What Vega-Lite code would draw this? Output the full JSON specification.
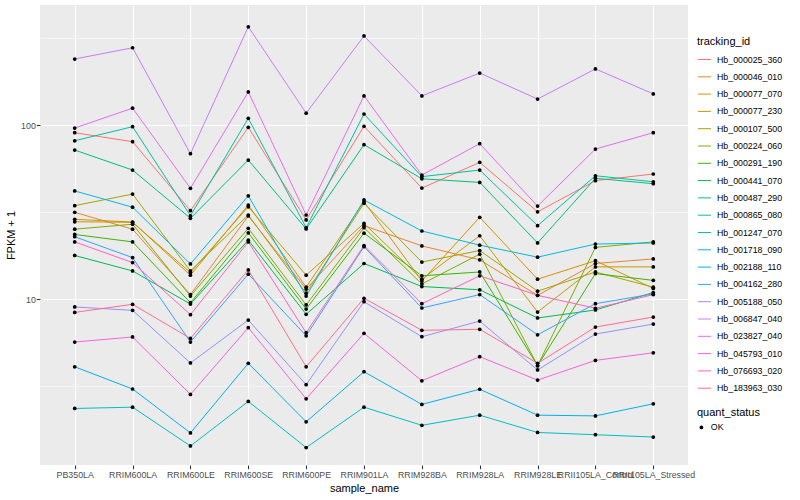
{
  "$schema": "https://vega.github.io/schema/vega-lite/v6.json",
  "width": 648,
  "height": 460,
  "autosize": {"type": "none"},
  "padding": {"left": 40, "top": 5, "right": 112, "bottom": 35},
  "background": "white",
  "config": {
    "font": "Liberation Sans",
    "view": {"fill": "#EBEBEB", "stroke": null},
    "axis": {"domain": false, "tickColor": "#333333", "tickSize": 3.7, "tickWidth": 1.07, "labelColor": "#4D4D4D", "labelFontSize": 8.8, "titleFontSize": 11, "titleFontWeight": "normal", "titleColor": "#000000", "gridColor": "#FFFFFF", "gridWidth": 1.07, "labelPadding": 2},
    "legend": {"titleFontSize": 11, "titleFontWeight": "normal", "titleColor": "#000000", "labelFontSize": 8.8, "labelColor": "#000000"}
  },
  "data": {"values": [
{"sample_name":"PB350LA","tracking_id":"Hb_000025_360","fpkm":90.3,"quant_status":"OK"},
{"sample_name":"RRIM600LA","tracking_id":"Hb_000025_360","fpkm":80.2,"quant_status":"OK"},
{"sample_name":"RRIM600LE","tracking_id":"Hb_000025_360","fpkm":32.2,"quant_status":"OK"},
{"sample_name":"RRIM600SE","tracking_id":"Hb_000025_360","fpkm":97.0,"quant_status":"OK"},
{"sample_name":"RRIM600PE","tracking_id":"Hb_000025_360","fpkm":28.5,"quant_status":"OK"},
{"sample_name":"RRIM901LA","tracking_id":"Hb_000025_360","fpkm":98.3,"quant_status":"OK"},
{"sample_name":"RRIM928BA","tracking_id":"Hb_000025_360","fpkm":43.4,"quant_status":"OK"},
{"sample_name":"RRIM928LA","tracking_id":"Hb_000025_360","fpkm":61.0,"quant_status":"OK"},
{"sample_name":"RRIM928LE","tracking_id":"Hb_000025_360","fpkm":31.7,"quant_status":"OK"},
{"sample_name":"RRII105LA_Control","tracking_id":"Hb_000025_360","fpkm":47.9,"quant_status":"OK"},
{"sample_name":"RRII105LA_Stressed","tracking_id":"Hb_000025_360","fpkm":52.3,"quant_status":"OK"},
{"sample_name":"PB350LA","tracking_id":"Hb_000046_010","fpkm":31.5,"quant_status":"OK"},
{"sample_name":"RRIM600LA","tracking_id":"Hb_000046_010","fpkm":25.2,"quant_status":"OK"},
{"sample_name":"RRIM600LE","tracking_id":"Hb_000046_010","fpkm":10.6,"quant_status":"OK"},
{"sample_name":"RRIM600SE","tracking_id":"Hb_000046_010","fpkm":30.0,"quant_status":"OK"},
{"sample_name":"RRIM600PE","tracking_id":"Hb_000046_010","fpkm":11.4,"quant_status":"OK"},
{"sample_name":"RRIM901LA","tracking_id":"Hb_000046_010","fpkm":26.4,"quant_status":"OK"},
{"sample_name":"RRIM928BA","tracking_id":"Hb_000046_010","fpkm":20.2,"quant_status":"OK"},
{"sample_name":"RRIM928LA","tracking_id":"Hb_000046_010","fpkm":16.8,"quant_status":"OK"},
{"sample_name":"RRIM928LE","tracking_id":"Hb_000046_010","fpkm":10.5,"quant_status":"OK"},
{"sample_name":"RRII105LA_Control","tracking_id":"Hb_000046_010","fpkm":16.0,"quant_status":"OK"},
{"sample_name":"RRII105LA_Stressed","tracking_id":"Hb_000046_010","fpkm":17.0,"quant_status":"OK"},
{"sample_name":"PB350LA","tracking_id":"Hb_000077_070","fpkm":28.7,"quant_status":"OK"},
{"sample_name":"RRIM600LA","tracking_id":"Hb_000077_070","fpkm":27.7,"quant_status":"OK"},
{"sample_name":"RRIM600LE","tracking_id":"Hb_000077_070","fpkm":13.7,"quant_status":"OK"},
{"sample_name":"RRIM600SE","tracking_id":"Hb_000077_070","fpkm":34.7,"quant_status":"OK"},
{"sample_name":"RRIM600PE","tracking_id":"Hb_000077_070","fpkm":11.7,"quant_status":"OK"},
{"sample_name":"RRIM901LA","tracking_id":"Hb_000077_070","fpkm":36.2,"quant_status":"OK"},
{"sample_name":"RRIM928BA","tracking_id":"Hb_000077_070","fpkm":12.7,"quant_status":"OK"},
{"sample_name":"RRIM928LA","tracking_id":"Hb_000077_070","fpkm":29.5,"quant_status":"OK"},
{"sample_name":"RRIM928LE","tracking_id":"Hb_000077_070","fpkm":13.0,"quant_status":"OK"},
{"sample_name":"RRII105LA_Control","tracking_id":"Hb_000077_070","fpkm":16.6,"quant_status":"OK"},
{"sample_name":"RRII105LA_Stressed","tracking_id":"Hb_000077_070","fpkm":11.5,"quant_status":"OK"},
{"sample_name":"PB350LA","tracking_id":"Hb_000077_230","fpkm":27.8,"quant_status":"OK"},
{"sample_name":"RRIM600LA","tracking_id":"Hb_000077_230","fpkm":27.6,"quant_status":"OK"},
{"sample_name":"RRIM600LE","tracking_id":"Hb_000077_230","fpkm":14.2,"quant_status":"OK"},
{"sample_name":"RRIM600SE","tracking_id":"Hb_000077_230","fpkm":33.9,"quant_status":"OK"},
{"sample_name":"RRIM600PE","tracking_id":"Hb_000077_230","fpkm":13.7,"quant_status":"OK"},
{"sample_name":"RRIM901LA","tracking_id":"Hb_000077_230","fpkm":27.2,"quant_status":"OK"},
{"sample_name":"RRIM928BA","tracking_id":"Hb_000077_230","fpkm":13.0,"quant_status":"OK"},
{"sample_name":"RRIM928LA","tracking_id":"Hb_000077_230","fpkm":23.1,"quant_status":"OK"},
{"sample_name":"RRIM928LE","tracking_id":"Hb_000077_230","fpkm":8.42,"quant_status":"OK"},
{"sample_name":"RRII105LA_Control","tracking_id":"Hb_000077_230","fpkm":15.3,"quant_status":"OK"},
{"sample_name":"RRII105LA_Stressed","tracking_id":"Hb_000077_230","fpkm":15.3,"quant_status":"OK"},
{"sample_name":"PB350LA","tracking_id":"Hb_000107_500","fpkm":34.4,"quant_status":"OK"},
{"sample_name":"RRIM600LA","tracking_id":"Hb_000107_500","fpkm":40.1,"quant_status":"OK"},
{"sample_name":"RRIM600LE","tracking_id":"Hb_000107_500","fpkm":14.5,"quant_status":"OK"},
{"sample_name":"RRIM600SE","tracking_id":"Hb_000107_500","fpkm":30.4,"quant_status":"OK"},
{"sample_name":"RRIM600PE","tracking_id":"Hb_000107_500","fpkm":10.8,"quant_status":"OK"},
{"sample_name":"RRIM901LA","tracking_id":"Hb_000107_500","fpkm":35.5,"quant_status":"OK"},
{"sample_name":"RRIM928BA","tracking_id":"Hb_000107_500","fpkm":16.3,"quant_status":"OK"},
{"sample_name":"RRIM928LA","tracking_id":"Hb_000107_500","fpkm":19.0,"quant_status":"OK"},
{"sample_name":"RRIM928LE","tracking_id":"Hb_000107_500","fpkm":11.1,"quant_status":"OK"},
{"sample_name":"RRII105LA_Control","tracking_id":"Hb_000107_500","fpkm":14.3,"quant_status":"OK"},
{"sample_name":"RRII105LA_Stressed","tracking_id":"Hb_000107_500","fpkm":11.7,"quant_status":"OK"},
{"sample_name":"PB350LA","tracking_id":"Hb_000224_060","fpkm":25.2,"quant_status":"OK"},
{"sample_name":"RRIM600LA","tracking_id":"Hb_000224_060","fpkm":26.9,"quant_status":"OK"},
{"sample_name":"RRIM600LE","tracking_id":"Hb_000224_060","fpkm":10.4,"quant_status":"OK"},
{"sample_name":"RRIM600SE","tracking_id":"Hb_000224_060","fpkm":25.5,"quant_status":"OK"},
{"sample_name":"RRIM600PE","tracking_id":"Hb_000224_060","fpkm":9.24,"quant_status":"OK"},
{"sample_name":"RRIM901LA","tracking_id":"Hb_000224_060","fpkm":25.7,"quant_status":"OK"},
{"sample_name":"RRIM928BA","tracking_id":"Hb_000224_060","fpkm":12.2,"quant_status":"OK"},
{"sample_name":"RRIM928LA","tracking_id":"Hb_000224_060","fpkm":18.1,"quant_status":"OK"},
{"sample_name":"RRIM928LE","tracking_id":"Hb_000224_060","fpkm":4.14,"quant_status":"OK"},
{"sample_name":"RRII105LA_Control","tracking_id":"Hb_000224_060","fpkm":19.8,"quant_status":"OK"},
{"sample_name":"RRII105LA_Stressed","tracking_id":"Hb_000224_060","fpkm":21.3,"quant_status":"OK"},
{"sample_name":"PB350LA","tracking_id":"Hb_000291_190","fpkm":23.5,"quant_status":"OK"},
{"sample_name":"RRIM600LA","tracking_id":"Hb_000291_190","fpkm":21.3,"quant_status":"OK"},
{"sample_name":"RRIM600LE","tracking_id":"Hb_000291_190","fpkm":9.52,"quant_status":"OK"},
{"sample_name":"RRIM600SE","tracking_id":"Hb_000291_190","fpkm":24.0,"quant_status":"OK"},
{"sample_name":"RRIM600PE","tracking_id":"Hb_000291_190","fpkm":8.76,"quant_status":"OK"},
{"sample_name":"RRIM901LA","tracking_id":"Hb_000291_190","fpkm":23.9,"quant_status":"OK"},
{"sample_name":"RRIM928BA","tracking_id":"Hb_000291_190","fpkm":13.6,"quant_status":"OK"},
{"sample_name":"RRIM928LA","tracking_id":"Hb_000291_190","fpkm":14.3,"quant_status":"OK"},
{"sample_name":"RRIM928LE","tracking_id":"Hb_000291_190","fpkm":4.14,"quant_status":"OK"},
{"sample_name":"RRII105LA_Control","tracking_id":"Hb_000291_190","fpkm":14.0,"quant_status":"OK"},
{"sample_name":"RRII105LA_Stressed","tracking_id":"Hb_000291_190","fpkm":12.8,"quant_status":"OK"},
{"sample_name":"PB350LA","tracking_id":"Hb_000441_070","fpkm":17.8,"quant_status":"OK"},
{"sample_name":"RRIM600LA","tracking_id":"Hb_000441_070","fpkm":14.5,"quant_status":"OK"},
{"sample_name":"RRIM600LE","tracking_id":"Hb_000441_070","fpkm":9.36,"quant_status":"OK"},
{"sample_name":"RRIM600SE","tracking_id":"Hb_000441_070","fpkm":21.8,"quant_status":"OK"},
{"sample_name":"RRIM600PE","tracking_id":"Hb_000441_070","fpkm":8.17,"quant_status":"OK"},
{"sample_name":"RRIM901LA","tracking_id":"Hb_000441_070","fpkm":16.0,"quant_status":"OK"},
{"sample_name":"RRIM928BA","tracking_id":"Hb_000441_070","fpkm":11.8,"quant_status":"OK"},
{"sample_name":"RRIM928LA","tracking_id":"Hb_000441_070","fpkm":11.3,"quant_status":"OK"},
{"sample_name":"RRIM928LE","tracking_id":"Hb_000441_070","fpkm":7.78,"quant_status":"OK"},
{"sample_name":"RRII105LA_Control","tracking_id":"Hb_000441_070","fpkm":8.65,"quant_status":"OK"},
{"sample_name":"RRII105LA_Stressed","tracking_id":"Hb_000441_070","fpkm":10.9,"quant_status":"OK"},
{"sample_name":"PB350LA","tracking_id":"Hb_000487_290","fpkm":71.8,"quant_status":"OK"},
{"sample_name":"RRIM600LA","tracking_id":"Hb_000487_290","fpkm":55.1,"quant_status":"OK"},
{"sample_name":"RRIM600LE","tracking_id":"Hb_000487_290","fpkm":29.1,"quant_status":"OK"},
{"sample_name":"RRIM600SE","tracking_id":"Hb_000487_290","fpkm":62.9,"quant_status":"OK"},
{"sample_name":"RRIM600PE","tracking_id":"Hb_000487_290","fpkm":25.3,"quant_status":"OK"},
{"sample_name":"RRIM901LA","tracking_id":"Hb_000487_290","fpkm":77.1,"quant_status":"OK"},
{"sample_name":"RRIM928BA","tracking_id":"Hb_000487_290","fpkm":49.1,"quant_status":"OK"},
{"sample_name":"RRIM928LA","tracking_id":"Hb_000487_290","fpkm":46.8,"quant_status":"OK"},
{"sample_name":"RRIM928LE","tracking_id":"Hb_000487_290","fpkm":21.0,"quant_status":"OK"},
{"sample_name":"RRII105LA_Control","tracking_id":"Hb_000487_290","fpkm":49.4,"quant_status":"OK"},
{"sample_name":"RRII105LA_Stressed","tracking_id":"Hb_000487_290","fpkm":46.0,"quant_status":"OK"},
{"sample_name":"PB350LA","tracking_id":"Hb_000865_080","fpkm":81.2,"quant_status":"OK"},
{"sample_name":"RRIM600LA","tracking_id":"Hb_000865_080","fpkm":97.8,"quant_status":"OK"},
{"sample_name":"RRIM600LE","tracking_id":"Hb_000865_080","fpkm":30.1,"quant_status":"OK"},
{"sample_name":"RRIM600SE","tracking_id":"Hb_000865_080","fpkm":109.3,"quant_status":"OK"},
{"sample_name":"RRIM600PE","tracking_id":"Hb_000865_080","fpkm":25.7,"quant_status":"OK"},
{"sample_name":"RRIM901LA","tracking_id":"Hb_000865_080","fpkm":115.7,"quant_status":"OK"},
{"sample_name":"RRIM928BA","tracking_id":"Hb_000865_080","fpkm":50.5,"quant_status":"OK"},
{"sample_name":"RRIM928LA","tracking_id":"Hb_000865_080","fpkm":55.1,"quant_status":"OK"},
{"sample_name":"RRIM928LE","tracking_id":"Hb_000865_080","fpkm":26.4,"quant_status":"OK"},
{"sample_name":"RRII105LA_Control","tracking_id":"Hb_000865_080","fpkm":51.1,"quant_status":"OK"},
{"sample_name":"RRII105LA_Stressed","tracking_id":"Hb_000865_080","fpkm":47.2,"quant_status":"OK"},
{"sample_name":"PB350LA","tracking_id":"Hb_001247_070","fpkm":2.35,"quant_status":"OK"},
{"sample_name":"RRIM600LA","tracking_id":"Hb_001247_070","fpkm":2.39,"quant_status":"OK"},
{"sample_name":"RRIM600LE","tracking_id":"Hb_001247_070","fpkm":1.43,"quant_status":"OK"},
{"sample_name":"RRIM600SE","tracking_id":"Hb_001247_070","fpkm":2.58,"quant_status":"OK"},
{"sample_name":"RRIM600PE","tracking_id":"Hb_001247_070","fpkm":1.40,"quant_status":"OK"},
{"sample_name":"RRIM901LA","tracking_id":"Hb_001247_070","fpkm":2.39,"quant_status":"OK"},
{"sample_name":"RRIM928BA","tracking_id":"Hb_001247_070","fpkm":1.88,"quant_status":"OK"},
{"sample_name":"RRIM928LA","tracking_id":"Hb_001247_070","fpkm":2.15,"quant_status":"OK"},
{"sample_name":"RRIM928LE","tracking_id":"Hb_001247_070","fpkm":1.71,"quant_status":"OK"},
{"sample_name":"RRII105LA_Control","tracking_id":"Hb_001247_070","fpkm":1.66,"quant_status":"OK"},
{"sample_name":"RRII105LA_Stressed","tracking_id":"Hb_001247_070","fpkm":1.61,"quant_status":"OK"},
{"sample_name":"PB350LA","tracking_id":"Hb_001718_090","fpkm":41.8,"quant_status":"OK"},
{"sample_name":"RRIM600LA","tracking_id":"Hb_001718_090","fpkm":33.7,"quant_status":"OK"},
{"sample_name":"RRIM600LE","tracking_id":"Hb_001718_090","fpkm":15.9,"quant_status":"OK"},
{"sample_name":"RRIM600SE","tracking_id":"Hb_001718_090","fpkm":39.2,"quant_status":"OK"},
{"sample_name":"RRIM600PE","tracking_id":"Hb_001718_090","fpkm":10.4,"quant_status":"OK"},
{"sample_name":"RRIM901LA","tracking_id":"Hb_001718_090","fpkm":37.1,"quant_status":"OK"},
{"sample_name":"RRIM928BA","tracking_id":"Hb_001718_090","fpkm":24.6,"quant_status":"OK"},
{"sample_name":"RRIM928LA","tracking_id":"Hb_001718_090","fpkm":20.4,"quant_status":"OK"},
{"sample_name":"RRIM928LE","tracking_id":"Hb_001718_090","fpkm":17.4,"quant_status":"OK"},
{"sample_name":"RRII105LA_Control","tracking_id":"Hb_001718_090","fpkm":20.7,"quant_status":"OK"},
{"sample_name":"RRII105LA_Stressed","tracking_id":"Hb_001718_090","fpkm":21.0,"quant_status":"OK"},
{"sample_name":"PB350LA","tracking_id":"Hb_002188_110","fpkm":4.08,"quant_status":"OK"},
{"sample_name":"RRIM600LA","tracking_id":"Hb_002188_110","fpkm":3.04,"quant_status":"OK"},
{"sample_name":"RRIM600LE","tracking_id":"Hb_002188_110","fpkm":1.70,"quant_status":"OK"},
{"sample_name":"RRIM600SE","tracking_id":"Hb_002188_110","fpkm":4.27,"quant_status":"OK"},
{"sample_name":"RRIM600PE","tracking_id":"Hb_002188_110","fpkm":1.97,"quant_status":"OK"},
{"sample_name":"RRIM901LA","tracking_id":"Hb_002188_110","fpkm":3.82,"quant_status":"OK"},
{"sample_name":"RRIM928BA","tracking_id":"Hb_002188_110","fpkm":2.48,"quant_status":"OK"},
{"sample_name":"RRIM928LA","tracking_id":"Hb_002188_110","fpkm":3.03,"quant_status":"OK"},
{"sample_name":"RRIM928LE","tracking_id":"Hb_002188_110","fpkm":2.15,"quant_status":"OK"},
{"sample_name":"RRII105LA_Control","tracking_id":"Hb_002188_110","fpkm":2.13,"quant_status":"OK"},
{"sample_name":"RRII105LA_Stressed","tracking_id":"Hb_002188_110","fpkm":2.50,"quant_status":"OK"},
{"sample_name":"PB350LA","tracking_id":"Hb_004162_280","fpkm":22.8,"quant_status":"OK"},
{"sample_name":"RRIM600LA","tracking_id":"Hb_004162_280","fpkm":17.3,"quant_status":"OK"},
{"sample_name":"RRIM600LE","tracking_id":"Hb_004162_280","fpkm":5.66,"quant_status":"OK"},
{"sample_name":"RRIM600SE","tracking_id":"Hb_004162_280","fpkm":13.9,"quant_status":"OK"},
{"sample_name":"RRIM600PE","tracking_id":"Hb_004162_280","fpkm":6.15,"quant_status":"OK"},
{"sample_name":"RRIM901LA","tracking_id":"Hb_004162_280","fpkm":20.0,"quant_status":"OK"},
{"sample_name":"RRIM928BA","tracking_id":"Hb_004162_280","fpkm":8.88,"quant_status":"OK"},
{"sample_name":"RRIM928LA","tracking_id":"Hb_004162_280","fpkm":10.6,"quant_status":"OK"},
{"sample_name":"RRIM928LE","tracking_id":"Hb_004162_280","fpkm":6.23,"quant_status":"OK"},
{"sample_name":"RRII105LA_Control","tracking_id":"Hb_004162_280","fpkm":9.40,"quant_status":"OK"},
{"sample_name":"RRII105LA_Stressed","tracking_id":"Hb_004162_280","fpkm":10.7,"quant_status":"OK"},
{"sample_name":"PB350LA","tracking_id":"Hb_005188_050","fpkm":9.00,"quant_status":"OK"},
{"sample_name":"RRIM600LA","tracking_id":"Hb_005188_050","fpkm":8.61,"quant_status":"OK"},
{"sample_name":"RRIM600LE","tracking_id":"Hb_005188_050","fpkm":4.29,"quant_status":"OK"},
{"sample_name":"RRIM600SE","tracking_id":"Hb_005188_050","fpkm":7.57,"quant_status":"OK"},
{"sample_name":"RRIM600PE","tracking_id":"Hb_005188_050","fpkm":3.22,"quant_status":"OK"},
{"sample_name":"RRIM901LA","tracking_id":"Hb_005188_050","fpkm":9.65,"quant_status":"OK"},
{"sample_name":"RRIM928BA","tracking_id":"Hb_005188_050","fpkm":6.07,"quant_status":"OK"},
{"sample_name":"RRIM928LA","tracking_id":"Hb_005188_050","fpkm":7.47,"quant_status":"OK"},
{"sample_name":"RRIM928LE","tracking_id":"Hb_005188_050","fpkm":3.91,"quant_status":"OK"},
{"sample_name":"RRII105LA_Control","tracking_id":"Hb_005188_050","fpkm":6.29,"quant_status":"OK"},
{"sample_name":"RRII105LA_Stressed","tracking_id":"Hb_005188_050","fpkm":7.18,"quant_status":"OK"},
{"sample_name":"PB350LA","tracking_id":"Hb_006847_040","fpkm":239.5,"quant_status":"OK"},
{"sample_name":"RRIM600LA","tracking_id":"Hb_006847_040","fpkm":278,"quant_status":"OK"},
{"sample_name":"RRIM600LE","tracking_id":"Hb_006847_040","fpkm":68.4,"quant_status":"OK"},
{"sample_name":"RRIM600SE","tracking_id":"Hb_006847_040","fpkm":367,"quant_status":"OK"},
{"sample_name":"RRIM600PE","tracking_id":"Hb_006847_040","fpkm":117,"quant_status":"OK"},
{"sample_name":"RRIM901LA","tracking_id":"Hb_006847_040","fpkm":325,"quant_status":"OK"},
{"sample_name":"RRIM928BA","tracking_id":"Hb_006847_040","fpkm":147,"quant_status":"OK"},
{"sample_name":"RRIM928LA","tracking_id":"Hb_006847_040","fpkm":199,"quant_status":"OK"},
{"sample_name":"RRIM928LE","tracking_id":"Hb_006847_040","fpkm":141,"quant_status":"OK"},
{"sample_name":"RRII105LA_Control","tracking_id":"Hb_006847_040","fpkm":210,"quant_status":"OK"},
{"sample_name":"RRII105LA_Stressed","tracking_id":"Hb_006847_040","fpkm":151,"quant_status":"OK"},
{"sample_name":"PB350LA","tracking_id":"Hb_023827_040","fpkm":96.1,"quant_status":"OK"},
{"sample_name":"RRIM600LA","tracking_id":"Hb_023827_040","fpkm":125,"quant_status":"OK"},
{"sample_name":"RRIM600LE","tracking_id":"Hb_023827_040","fpkm":43.3,"quant_status":"OK"},
{"sample_name":"RRIM600SE","tracking_id":"Hb_023827_040","fpkm":155,"quant_status":"OK"},
{"sample_name":"RRIM600PE","tracking_id":"Hb_023827_040","fpkm":30.4,"quant_status":"OK"},
{"sample_name":"RRIM901LA","tracking_id":"Hb_023827_040","fpkm":147,"quant_status":"OK"},
{"sample_name":"RRIM928BA","tracking_id":"Hb_023827_040","fpkm":51.6,"quant_status":"OK"},
{"sample_name":"RRIM928LA","tracking_id":"Hb_023827_040","fpkm":78.1,"quant_status":"OK"},
{"sample_name":"RRIM928LE","tracking_id":"Hb_023827_040","fpkm":34.2,"quant_status":"OK"},
{"sample_name":"RRII105LA_Control","tracking_id":"Hb_023827_040","fpkm":72.8,"quant_status":"OK"},
{"sample_name":"RRII105LA_Stressed","tracking_id":"Hb_023827_040","fpkm":90.3,"quant_status":"OK"},
{"sample_name":"PB350LA","tracking_id":"Hb_045793_010","fpkm":5.66,"quant_status":"OK"},
{"sample_name":"RRIM600LA","tracking_id":"Hb_045793_010","fpkm":6.05,"quant_status":"OK"},
{"sample_name":"RRIM600LE","tracking_id":"Hb_045793_010","fpkm":2.83,"quant_status":"OK"},
{"sample_name":"RRIM600SE","tracking_id":"Hb_045793_010","fpkm":6.84,"quant_status":"OK"},
{"sample_name":"RRIM600PE","tracking_id":"Hb_045793_010","fpkm":2.67,"quant_status":"OK"},
{"sample_name":"RRIM901LA","tracking_id":"Hb_045793_010","fpkm":6.35,"quant_status":"OK"},
{"sample_name":"RRIM928BA","tracking_id":"Hb_045793_010","fpkm":3.39,"quant_status":"OK"},
{"sample_name":"RRIM928LA","tracking_id":"Hb_045793_010","fpkm":4.66,"quant_status":"OK"},
{"sample_name":"RRIM928LE","tracking_id":"Hb_045793_010","fpkm":3.42,"quant_status":"OK"},
{"sample_name":"RRII105LA_Control","tracking_id":"Hb_045793_010","fpkm":4.44,"quant_status":"OK"},
{"sample_name":"RRII105LA_Stressed","tracking_id":"Hb_045793_010","fpkm":4.91,"quant_status":"OK"},
{"sample_name":"PB350LA","tracking_id":"Hb_076693_020","fpkm":21.3,"quant_status":"OK"},
{"sample_name":"RRIM600LA","tracking_id":"Hb_076693_020","fpkm":16.2,"quant_status":"OK"},
{"sample_name":"RRIM600LE","tracking_id":"Hb_076693_020","fpkm":8.13,"quant_status":"OK"},
{"sample_name":"RRIM600SE","tracking_id":"Hb_076693_020","fpkm":21.3,"quant_status":"OK"},
{"sample_name":"RRIM600PE","tracking_id":"Hb_076693_020","fpkm":6.40,"quant_status":"OK"},
{"sample_name":"RRIM901LA","tracking_id":"Hb_076693_020","fpkm":20.3,"quant_status":"OK"},
{"sample_name":"RRIM928BA","tracking_id":"Hb_076693_020","fpkm":9.40,"quant_status":"OK"},
{"sample_name":"RRIM928LA","tracking_id":"Hb_076693_020","fpkm":13.6,"quant_status":"OK"},
{"sample_name":"RRIM928LE","tracking_id":"Hb_076693_020","fpkm":10.5,"quant_status":"OK"},
{"sample_name":"RRII105LA_Control","tracking_id":"Hb_076693_020","fpkm":8.85,"quant_status":"OK"},
{"sample_name":"RRII105LA_Stressed","tracking_id":"Hb_076693_020","fpkm":10.6,"quant_status":"OK"},
{"sample_name":"PB350LA","tracking_id":"Hb_183963_030","fpkm":8.38,"quant_status":"OK"},
{"sample_name":"RRIM600LA","tracking_id":"Hb_183963_030","fpkm":9.32,"quant_status":"OK"},
{"sample_name":"RRIM600LE","tracking_id":"Hb_183963_030","fpkm":5.94,"quant_status":"OK"},
{"sample_name":"RRIM600SE","tracking_id":"Hb_183963_030","fpkm":14.7,"quant_status":"OK"},
{"sample_name":"RRIM600PE","tracking_id":"Hb_183963_030","fpkm":4.08,"quant_status":"OK"},
{"sample_name":"RRIM901LA","tracking_id":"Hb_183963_030","fpkm":10.1,"quant_status":"OK"},
{"sample_name":"RRIM928BA","tracking_id":"Hb_183963_030","fpkm":6.61,"quant_status":"OK"},
{"sample_name":"RRIM928LA","tracking_id":"Hb_183963_030","fpkm":6.70,"quant_status":"OK"},
{"sample_name":"RRIM928LE","tracking_id":"Hb_183963_030","fpkm":4.27,"quant_status":"OK"},
{"sample_name":"RRII105LA_Control","tracking_id":"Hb_183963_030","fpkm":6.90,"quant_status":"OK"},
{"sample_name":"RRII105LA_Stressed","tracking_id":"Hb_183963_030","fpkm":7.88,"quant_status":"OK"}
  ]},
  "encoding": {
    "x": {"field": "sample_name", "type": "nominal", "title": "sample_name",
      "scale": {"type": "point", "padding": 0.6, "domain": ["PB350LA","RRIM600LA","RRIM600LE","RRIM600SE","RRIM600PE","RRIM901LA","RRIM928BA","RRIM928LA","RRIM928LE","RRII105LA_Control","RRII105LA_Stressed"]},
      "axis": {"grid": true, "labelAngle": 0, "labelOverlap": false, "labelBound": false, "labelLimit": 0, "titlePadding": 3}},
    "y": {"field": "fpkm", "type": "quantitative", "title": "FPKM + 1",
      "scale": {"type": "log", "domain": [1.112, 489.5], "nice": false, "zero": false},
      "axis": {"values": [3.1623, 10, 31.623, 100, 316.23],
        "labelExpr": "datum.value == 10 ? '10' : (datum.value == 100 ? '100' : '')",
        "gridWidth": {"condition": {"test": "datum.value == 10 || datum.value == 100", "value": 1.07}, "value": 0.53},
        "tickOpacity": {"condition": {"test": "datum.value == 10 || datum.value == 100", "value": 1}, "value": 0},
        "titlePadding": 4, "labelPadding": 1}}
  },
  "layer": [
    {"mark": {"type": "line", "strokeWidth": 1},
     "encoding": {
       "color": {"field": "tracking_id", "type": "nominal", "title": "tracking_id",
         "scale": {"domain": ["Hb_000025_360","Hb_000046_010","Hb_000077_070","Hb_000077_230","Hb_000107_500","Hb_000224_060","Hb_000291_190","Hb_000441_070","Hb_000487_290","Hb_000865_080","Hb_001247_070","Hb_001718_090","Hb_002188_110","Hb_004162_280","Hb_005188_050","Hb_006847_040","Hb_023827_040","Hb_045793_010","Hb_076693_020","Hb_183963_030"],
           "range": ["#F8766D","#EA8331","#D89000","#C09B00","#A3A500","#7CAE00","#39B600","#00BB4E","#00BF7D","#00C1A3","#00BFC4","#00BAE0","#00B0F6","#35A2FF","#9590FF","#C77CFF","#E76BF3","#FA62DB","#FF62BC","#FF6C91"]},
         "legend": {"orient": "none", "legendX": 657, "legendY": 31, "symbolType": "stroke", "symbolSize": 170, "symbolStrokeWidth": 1, "rowPadding": 4.3, "titlePadding": 5, "labelOffset": 5}},
       "order": {"value": null}
     }},
    {"mark": {"type": "point", "filled": true, "color": "black", "size": 14, "opacity": 1},
     "encoding": {
       "shape": {"field": "quant_status", "type": "nominal", "title": "quant_status",
         "scale": {"range": ["circle"]},
         "legend": {"orient": "none", "legendX": 657, "legendY": 402, "symbolSize": 14, "symbolFillColor": "black", "symbolStrokeColor": "black", "titlePadding": 5, "labelOffset": 5}}
     }}
  ]
}
